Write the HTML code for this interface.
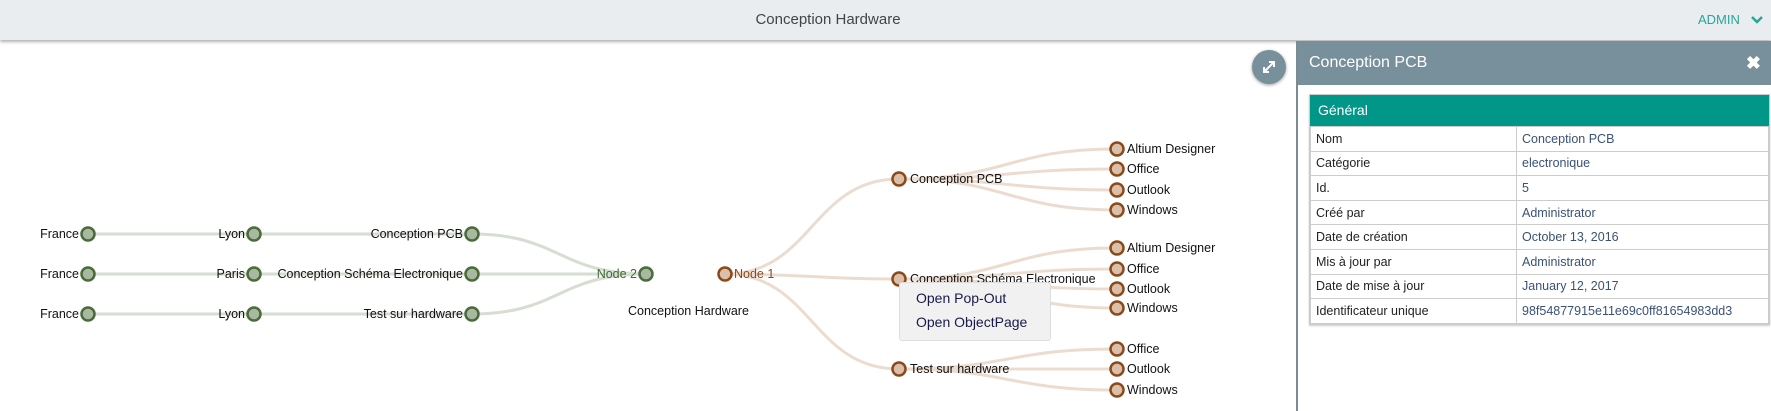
<!DOCTYPE html>
<html><head><meta charset="utf-8"><style>
body{margin:0;width:1771px;height:411px;overflow:hidden;background:#fff;font-family:"Liberation Sans",sans-serif;position:relative}
.hdr{position:absolute;left:0;top:0;width:1771px;height:40px;background:#eaedf0;box-shadow:0 2px 3px rgba(0,0,0,.3)}
.hdr .t{position:absolute;left:0;width:1656px;text-align:center;top:11px;font-size:15px;color:#444}
.hdr .a{position:absolute;left:1698px;top:12px;font-size:13px;color:#26a69a}
.panel{position:absolute;left:1296px;top:41px;width:475px;height:370px;background:#fff;border-left:2px solid #7c8a94}
.ph{height:44px;background:#78909c;color:#fff;font-size:16px;line-height:44px;padding-left:11px;position:relative}
.ph .x{position:absolute;right:12px;top:0;font-size:18px;font-weight:bold}
.card{position:absolute;left:11px;top:53px;width:459px;border:1px solid #ccc;box-shadow:0 1px 2px rgba(0,0,0,.2)}
.gh{background:#009688;color:#fff;height:31px;line-height:31px;font-size:14px;padding-left:8px}
table{border-collapse:collapse;width:100%;font-size:12.5px}
td{border:1px solid #ccc;height:23.6px;padding:0 5px;color:#222}
td.v{color:#3a5276;width:241px}
.btn{position:absolute;left:1252px;top:50px;width:34px;height:34px;border-radius:50%;background:#78909c;box-shadow:0 1px 3px rgba(0,0,0,.4)}
.menu{position:absolute;left:899px;top:282px;width:150px;height:57px;background:#f1f1f1;border:1px solid #ddd;border-radius:3px;font-size:14px;color:#1a1a4a}
.menu div{position:absolute;left:16px}
</style></head><body>
<div class="hdr"><div class="t">Conception Hardware</div><div class="a">ADMIN</div>
<svg style="position:absolute;left:1750px;top:14px" width="14" height="12"><path d="M2 3 L7 8 L12 3" stroke="#26a69a" stroke-width="2.5" fill="none"/></svg></div>
<svg width="1296" height="411" style="position:absolute;left:0;top:0">
<g fill="none" stroke-width="3">
<g stroke="#d6ddd2">
<path d="M88 234 H472"/><path d="M88 274 H646"/><path d="M88 314 H472"/>
<path d="M472 234 C559 234 559 274 646 274"/><path d="M472 314 C559 314 559 274 646 274"/>
</g>
<g stroke="#ecdcd0">
<path d="M725 274 C812 274 812 179 899 179"/><path d="M725 274 C812 274 812 279 899 279"/><path d="M725 274 C812 274 812 369 899 369"/>
<path d="M899 179 C1008 179 1008 149 1117 149"/><path d="M899 179 C1008 179 1008 169 1117 169"/><path d="M899 179 C1008 179 1008 190 1117 190"/><path d="M899 179 C1008 179 1008 210 1117 210"/>
<path d="M899 279 C1008 279 1008 248 1117 248"/><path d="M899 279 C1008 279 1008 269 1117 269"/><path d="M899 279 C1008 279 1008 289 1117 289"/><path d="M899 279 C1008 279 1008 308 1117 308"/>
<path d="M899 369 C1008 369 1008 349 1117 349"/><path d="M899 369 C1008 369 1008 369 1117 369"/><path d="M899 369 C1008 369 1008 390 1117 390"/>
</g></g>
<g stroke="#4a6b3a" stroke-width="2.5" fill="#a9b8a0">
<circle cx="88" cy="234" r="6.5"/><circle cx="254" cy="234" r="6.5"/><circle cx="472" cy="234" r="6.5"/>
<circle cx="88" cy="274" r="6.5"/><circle cx="254" cy="274" r="6.5"/><circle cx="472" cy="274" r="6.5"/>
<circle cx="88" cy="314" r="6.5"/><circle cx="254" cy="314" r="6.5"/><circle cx="472" cy="314" r="6.5"/>
<circle cx="646" cy="274" r="6.5"/>
</g>
<g stroke="#8b4a1c" stroke-width="2.5" fill="#dcbfa8">
<circle cx="725" cy="274" r="6.5"/><circle cx="899" cy="179" r="6.5"/><circle cx="899" cy="279" r="6.5"/><circle cx="899" cy="369" r="6.5"/>
<circle cx="1117" cy="149" r="6.5"/><circle cx="1117" cy="169" r="6.5"/><circle cx="1117" cy="190" r="6.5"/><circle cx="1117" cy="210" r="6.5"/>
<circle cx="1117" cy="248" r="6.5"/><circle cx="1117" cy="269" r="6.5"/><circle cx="1117" cy="289" r="6.5"/><circle cx="1117" cy="308" r="6.5"/>
<circle cx="1117" cy="349" r="6.5"/><circle cx="1117" cy="369" r="6.5"/><circle cx="1117" cy="390" r="6.5"/>
</g>
<g font-family="Liberation Sans,sans-serif" font-size="12.5" fill="#111" text-anchor="end">
<text x="79" y="238">France</text><text x="245" y="238">Lyon</text><text x="463" y="238">Conception PCB</text>
<text x="79" y="278">France</text><text x="245" y="278">Paris</text><text x="463" y="278">Conception Schéma Electronique</text>
<text x="79" y="318">France</text><text x="245" y="318">Lyon</text><text x="463" y="318">Test sur hardware</text>
<text x="637" y="278" fill="#3f6a30">Node 2</text>
</g>
<g font-family="Liberation Sans,sans-serif" font-size="12.5" fill="#111">
<text x="734" y="278" fill="#8b4a1c">Node 1</text>
<text x="628" y="315">Conception Hardware</text>
<text x="910" y="183">Conception PCB</text><text x="910" y="283">Conception Schéma Electronique</text><text x="910" y="373">Test sur hardware</text>
<text x="1127" y="153">Altium Designer</text><text x="1127" y="173">Office</text><text x="1127" y="194">Outlook</text><text x="1127" y="214">Windows</text>
<text x="1127" y="252">Altium Designer</text><text x="1127" y="273">Office</text><text x="1127" y="293">Outlook</text><text x="1127" y="312">Windows</text>
<text x="1127" y="353">Office</text><text x="1127" y="373">Outlook</text><text x="1127" y="394">Windows</text>
</g>
</svg>
<div class="menu"><div style="top:7px">Open Pop-Out</div><div style="top:31px">Open ObjectPage</div></div>
<div class="btn"><svg width="34" height="34"><path d="M12 22 L22 12 M17 12 H22 V17 M12 17 V22 H17" stroke="#fff" stroke-width="2" fill="none"/></svg></div>
<div class="panel"><div class="ph">Conception PCB<span class="x">✖</span></div>
<div class="card"><div class="gh">Général</div>
<table>
<tr><td>Nom</td><td class="v">Conception PCB</td></tr>
<tr><td>Catégorie</td><td class="v">electronique</td></tr>
<tr><td>Id.</td><td class="v">5</td></tr>
<tr><td>Créé par</td><td class="v">Administrator</td></tr>
<tr><td>Date de création</td><td class="v">October 13, 2016</td></tr>
<tr><td>Mis à jour par</td><td class="v">Administrator</td></tr>
<tr><td>Date de mise à jour</td><td class="v">January 12, 2017</td></tr>
<tr><td>Identificateur unique</td><td class="v">98f54877915e11e69c0ff81654983dd3</td></tr>
</table></div></div>
</body></html>
